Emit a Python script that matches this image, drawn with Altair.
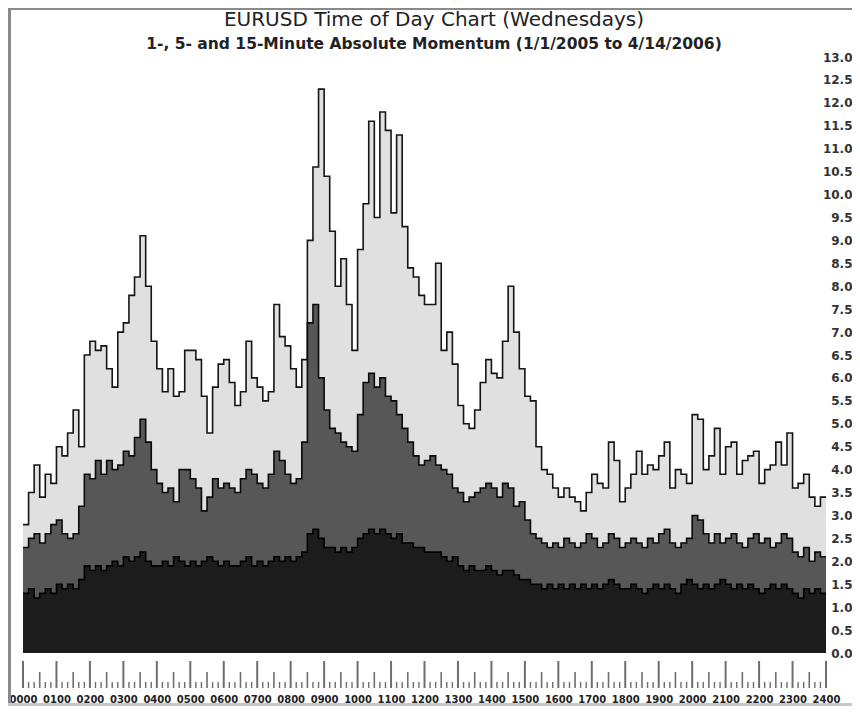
import altair as alt
import pandas as pd

TITLE = "EURUSD Time of Day Chart (Wednesdays)"
SUBTITLE = "1-, 5- and 15-Minute Absolute Momentum (1/1/2005  to  4/14/2006)"

# minutes after midnight, one value every 10 minutes
MINUTES = list(range(0, 1440, 10))

# 15-minute absolute momentum (light grey, top layer)
V15 = [
    2.8, 3.5, 4.1, 3.4, 3.9, 3.7, 4.5, 4.3, 4.8, 5.3,
    4.5, 6.5, 6.8, 6.6, 6.7, 6.2, 5.8, 7.0, 7.2, 7.8,
    8.2, 9.1, 8.0, 6.8, 6.2, 5.7, 6.2, 5.6, 5.7, 6.6,
    6.6, 6.4, 5.6, 4.8, 5.8, 6.3, 6.4, 5.9, 5.4, 5.7,
    6.8, 6.0, 5.8, 5.5, 5.7, 7.6, 6.9, 6.7, 6.2, 5.8,
    6.4, 9.0, 10.6, 12.3, 10.4, 9.2, 8.0, 8.6, 7.6, 6.6,
    8.8, 9.8, 11.6, 9.5, 11.8, 11.4, 9.6, 11.3, 9.3, 8.4,
    8.2, 7.8, 7.6, 7.6, 8.5, 6.6, 7.0, 6.3, 5.4, 5.0,
    4.9, 5.3, 5.9, 6.4, 6.1, 6.0, 6.8, 8.0, 7.0, 6.2,
    5.6, 5.5, 4.5, 4.0, 3.9, 3.6, 3.4, 3.6, 3.4, 3.3,
    3.1, 3.5, 3.9, 3.7, 3.6, 4.6, 4.2, 3.3, 3.6, 3.9,
    4.4, 3.9, 4.1, 4.0, 4.3, 4.6, 3.6, 4.0, 3.9, 3.7,
    5.2, 5.1, 4.0, 4.3, 4.9, 3.9, 4.5, 4.6, 3.9, 4.2,
    4.3, 4.4, 3.7, 4.0, 4.1, 4.6, 4.1, 4.8, 3.6, 3.7,
    3.9, 3.4, 3.2, 3.4,
]

# 5-minute absolute momentum (dark grey, middle layer)
V5 = [
    2.3, 2.5, 2.6, 2.4, 2.6, 2.8, 2.9, 2.6, 2.5, 2.6,
    3.2, 3.9, 3.8, 4.2, 3.9, 4.2, 4.0, 4.1, 4.4, 4.3,
    4.7, 5.1, 4.6, 4.0, 3.7, 3.5, 3.6, 3.3, 4.0, 4.0,
    3.8, 3.6, 3.1, 3.4, 3.8, 3.6, 3.7, 3.6, 3.5, 3.8,
    4.0, 3.9, 3.7, 3.6, 3.9, 4.4, 4.2, 3.9, 3.7, 3.8,
    4.6, 7.2, 7.6, 6.0, 5.3, 4.9, 4.8, 4.6, 4.5, 4.4,
    5.2, 5.9, 6.1, 5.8, 6.0, 5.6, 5.5, 5.2, 4.9, 4.6,
    4.3, 4.1, 4.2, 4.3, 4.1, 4.0, 3.9, 3.6, 3.5, 3.3,
    3.4, 3.5, 3.6, 3.7, 3.6, 3.4, 3.7, 3.6, 3.2, 3.3,
    2.9, 2.6, 2.5, 2.4, 2.3, 2.4, 2.3, 2.5, 2.4, 2.3,
    2.4, 2.6, 2.5, 2.3, 2.4, 2.6, 2.5, 2.3, 2.4, 2.5,
    2.4, 2.3, 2.5, 2.4, 2.6, 2.7, 2.4, 2.3, 2.4, 2.5,
    3.0, 2.9, 2.6, 2.4, 2.6, 2.4, 2.5, 2.6, 2.4, 2.3,
    2.5, 2.6, 2.4, 2.5, 2.3, 2.4, 2.6, 2.5, 2.2, 2.1,
    2.3, 2.0, 2.2, 2.1,
]

# 1-minute absolute momentum (near black, front layer)
V1 = [
    1.3, 1.4, 1.2, 1.3, 1.4, 1.3, 1.5, 1.4, 1.5, 1.4,
    1.6, 1.9, 1.8, 1.9, 1.8, 1.9, 2.0, 1.9, 2.1, 2.0,
    2.1, 2.2, 2.0, 1.9, 1.9, 2.0, 1.9, 2.1, 2.0, 1.9,
    2.0, 1.9, 2.0, 2.1, 2.0, 1.9, 2.0, 1.9, 1.9, 2.0,
    2.1, 1.9, 2.0, 1.9, 2.0, 2.1, 2.0, 2.1, 2.0, 2.1,
    2.2, 2.6, 2.7, 2.5, 2.3, 2.3, 2.2, 2.3, 2.2, 2.3,
    2.5, 2.6, 2.7, 2.6, 2.7, 2.6, 2.5, 2.6, 2.4, 2.4,
    2.3, 2.3, 2.2, 2.2, 2.2, 2.1, 2.0, 2.1, 1.9, 1.8,
    1.9, 1.8, 1.8, 1.9, 1.8, 1.7, 1.8, 1.8, 1.7, 1.6,
    1.6, 1.5, 1.5, 1.4, 1.5, 1.4, 1.5, 1.4, 1.5, 1.4,
    1.5, 1.4, 1.5, 1.4, 1.5, 1.6, 1.5, 1.4, 1.4, 1.5,
    1.4, 1.3, 1.4, 1.5, 1.4, 1.5, 1.4, 1.3, 1.5, 1.6,
    1.5, 1.4, 1.5, 1.4, 1.5, 1.6, 1.5, 1.4, 1.5, 1.4,
    1.5, 1.4, 1.3, 1.4, 1.5, 1.4, 1.5, 1.4, 1.3, 1.2,
    1.4, 1.3, 1.4, 1.3,
]

Y_LABELS = [i * 0.5 for i in range(27)]
HOUR_TICKS = list(range(0, 1441, 60))
HALF_TICKS = list(range(30, 1440, 60))
MINOR_TICKS = [m for m in range(10, 1440, 10) if m % 30 != 0]

assert len(V15) == len(V5) == len(V1) == len(MINUTES)

# close the last step at 24:00
df = pd.DataFrame({
    "m": MINUTES + [1440],
    "v15": V15 + [V15[-1]],
    "v5": V5 + [V5[-1]],
    "v1": V1 + [V1[-1]],
})

W, H = 803, 596
xs = alt.Scale(domain=[0, 1440], nice=False, zero=False)
ys = alt.Scale(domain=[0, 13], nice=False, zero=True)

x_axis = alt.Axis(
    values=HOUR_TICKS, labelExpr="format(datum.value / 60 * 100, '04d')",
    ticks=False, tickSize=0, domain=False, grid=False, title=None,
    labelFont="DejaVu Sans", labelFontWeight="bold", labelFontSize=10,
    labelColor="#222", labelPadding=41, labelFlush=False, labelOverlap=False,
)
y_axis = alt.Axis(
    orient="right", values=Y_LABELS, format=".1f", ticks=False, tickSize=0,
    domain=False, grid=False, title=None, labelAlign="right", labelPadding=26,
    labelFont="DejaVu Sans", labelFontWeight="bold", labelFontSize=12,
    labelColor="#333", labelOverlap=False, labelBaseline="middle",
)


def X():
    return alt.X("m:Q", scale=xs, axis=x_axis)


def Y(field):
    return alt.Y(f"{field}:Q", scale=ys, axis=y_axis)


base = alt.Chart(df)


def area(field, color):
    return base.mark_area(interpolate="step-after", color=color).encode(x=X(), y=Y(field))


def outline(field, color, width):
    return base.mark_line(interpolate="step-after", color=color, strokeWidth=width).encode(
        x=X(), y=Y(field))


def ticks(vals, y_top, width):
    return alt.Chart(pd.DataFrame({"m": vals})).mark_rule(color="#6e6e6e", strokeWidth=width).encode(
        x=X(), y=alt.value(y_top), y2=alt.value(631),
    )


one = pd.DataFrame({"t": [TITLE], "s": [SUBTITLE]})
title = alt.Chart(one).mark_text(
    font="DejaVu Sans", fontSize=20, color="#222", align="center", baseline="middle"
).encode(x=alt.value(411), y=alt.value(-37), text="t:N")
subtitle = alt.Chart(one).mark_text(
    font="DejaVu Sans", fontWeight="bold", fontSize=15.5, color="#222",
    align="center", baseline="middle"
).encode(x=alt.value(411), y=alt.value(-13), text="s:N")

frame_left = alt.Chart(one).mark_rule(color="#8a8a8a", strokeWidth=3).encode(
    x=alt.value(-13.5), y=alt.value(-48), y2=alt.value(649))
frame_top = alt.Chart(one).mark_rule(color="#8a8a8a", strokeWidth=2).encode(
    x=alt.value(-15), x2=alt.value(830), y=alt.value(-48))
frame_bottom = alt.Chart(one).mark_rule(color="#c8c8c8", strokeWidth=3).encode(
    x=alt.value(-15), x2=alt.value(830), y=alt.value(647.5))

chart = alt.layer(
    area("v15", "#e0e0e0"),
    outline("v15", "#141414", 1.6),
    area("v5", "#575757"),
    outline("v5", "#0a0a0a", 1.6),
    area("v1", "#1c1c1c"),
    outline("v1", "#000000", 1.6),
    ticks(HOUR_TICKS, 604, 2),
    ticks(HALF_TICKS, 615, 1.6),
    ticks(MINOR_TICKS, 625, 1.4),
    title, subtitle, frame_left, frame_top, frame_bottom,
).properties(
    width=W, height=H,
    padding={"left": 15, "top": 49, "right": 26, "bottom": 53},
    autosize=alt.AutoSizeParams(type="none"),
).configure_view(strokeWidth=0)

chart.save("out.html", embed_options={"renderer": "svg", "actions": False})
